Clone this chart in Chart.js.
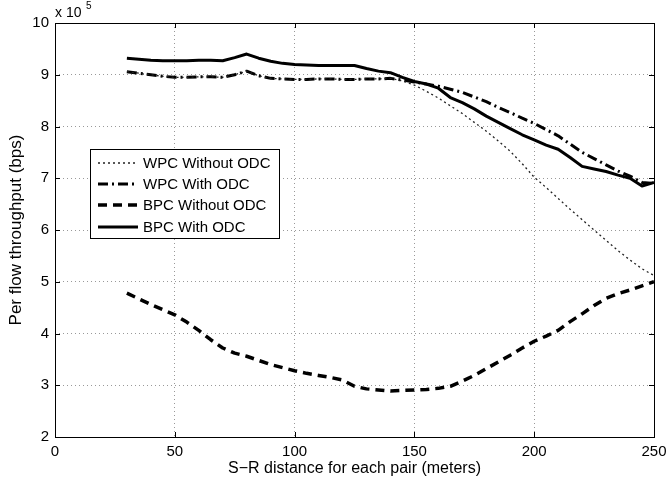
<!DOCTYPE html>
<html>
<head>
<meta charset="utf-8">
<script src="https://cdn.jsdelivr.net/npm/chart.js@4/dist/chart.umd.min.js"></script>
<style>
  body { margin: 0; background: #fff; }
  canvas { display: block; }
</style>
</head>
<body>
<canvas id="chart" width="667" height="480"></canvas>
<script>
// distance (m)
const distances = [30, 35, 40, 45, 50, 55, 60, 65, 70, 75, 80, 85, 90, 95, 100, 105, 110, 115, 120, 125,
    130, 135, 140, 145, 150, 155, 160, 165, 170, 175, 180, 185, 190, 195, 200, 205, 210, 215, 220, 225,
    230, 235, 240, 245, 250];

// throughput in units of 1e5 bps
const wpcWithoutOdc = [9.06, 9.03, 9.00, 8.97, 8.95, 8.95, 8.96, 8.96, 8.95, 9.00, 9.07, 8.98, 8.93, 8.92, 8.91,
    8.91, 8.92, 8.92, 8.91, 8.91, 8.92, 8.92, 8.93, 8.88, 8.80, 8.68, 8.55, 8.40, 8.25, 8.08,
    7.91, 7.72, 7.52, 7.28, 7.02, 6.82, 6.61, 6.40, 6.20, 6.00, 5.80, 5.60, 5.42, 5.25, 5.12];
const wpcWithOdc = [9.06, 9.03, 9.00, 8.97, 8.95, 8.95, 8.96, 8.96, 8.95, 9.00, 9.07, 8.98, 8.93, 8.92, 8.91,
    8.91, 8.92, 8.92, 8.91, 8.91, 8.92, 8.92, 8.93, 8.90, 8.86, 8.82, 8.78, 8.72, 8.66, 8.57,
    8.48, 8.37, 8.27, 8.16, 8.06, 7.94, 7.82, 7.66, 7.50, 7.38, 7.26, 7.14, 7.04, 6.92, 6.90];
const bpcWithoutOdc = [4.78, 4.67, 4.56, 4.46, 4.36, 4.22, 4.06, 3.88, 3.72, 3.62, 3.56, 3.48, 3.40, 3.34, 3.28,
    3.23, 3.19, 3.15, 3.10, 2.98, 2.93, 2.91, 2.89, 2.90, 2.91, 2.92, 2.94, 2.98, 3.08, 3.19,
    3.32, 3.45, 3.58, 3.72, 3.85, 3.95, 4.06, 4.23, 4.38, 4.54, 4.68, 4.77, 4.84, 4.92, 5.00];
const bpcWithOdc = [9.32, 9.30, 9.28, 9.27, 9.27, 9.27, 9.28, 9.28, 9.27, 9.33, 9.40, 9.32, 9.26, 9.22, 9.20,
    9.19, 9.18, 9.18, 9.18, 9.18, 9.12, 9.07, 9.04, 8.95, 8.87, 8.82, 8.74, 8.56, 8.46, 8.34,
    8.20, 8.08, 7.96, 7.84, 7.74, 7.64, 7.56, 7.40, 7.23, 7.18, 7.13, 7.06, 7.00, 6.85, 6.92];

const seriesNames = ['WPC Without ODC', 'WPC With ODC', 'BPC Without ODC', 'BPC With ODC'];
const xTicks = [0, 50, 100, 150, 200, 250];
const yTicks = [2, 3, 4, 5, 6, 7, 8, 9, 10];

const FONT = '"Liberation Sans", Arial, Helvetica, sans-serif';

const toPoints = ys => ys.map((y, i) => ({ x: distances[i], y }));

const styles = [
    { borderColor: '#222', borderWidth: 1.3, borderDash: [2, 3] },
    { borderColor: '#000', borderWidth: 3, borderDash: [10, 4, 2, 4] },
    { borderColor: '#000', borderWidth: 3.5, borderDash: [9, 6] },
    { borderColor: '#000', borderWidth: 3, borderDash: [] }
];

const datasets = [wpcWithoutOdc, wpcWithOdc, bpcWithoutOdc, bpcWithOdc].map((ys, i) => ({
    label: seriesNames[i],
    data: toPoints(ys),
    fill: false,
    tension: 0,
    pointRadius: 0,
    borderJoinStyle: 'round',
    ...styles[i]
}));

// box, inner ticks, exponent label and legend
const matlabFrame = {
    id: 'matlabFrame',
    afterDatasetsDraw(chart) {
        const { ctx, chartArea: a, scales } = chart;
        ctx.save();
        ctx.setLineDash([]);
        ctx.strokeStyle = '#000';
        ctx.lineWidth = 1;
        ctx.strokeRect(a.left + 0.5, a.top + 0.5, a.right - a.left, a.bottom - a.top);

        ctx.beginPath();
        xTicks.forEach(v => {
            const x = Math.round(scales.x.getPixelForValue(v)) + 0.5;
            ctx.moveTo(x, a.bottom); ctx.lineTo(x, a.bottom - 5);
            ctx.moveTo(x, a.top); ctx.lineTo(x, a.top + 5);
        });
        yTicks.forEach(v => {
            const y = Math.round(scales.y.getPixelForValue(v)) + 0.5;
            ctx.moveTo(a.left, y); ctx.lineTo(a.left + 5, y);
            ctx.moveTo(a.right, y); ctx.lineTo(a.right - 5, y);
        });
        ctx.stroke();

        ctx.fillStyle = '#000';
        ctx.textBaseline = 'alphabetic';
        ctx.textAlign = 'left';
        ctx.font = '14px ' + FONT;
        ctx.fillText('x 10', a.left, 17);
        ctx.font = '10px ' + FONT;
        ctx.fillText('5', a.left + 31, 9);

        // legend
        const lx = 90, ly = 149, lw = 189, lh = 89;
        ctx.fillStyle = '#fff';
        ctx.fillRect(lx, ly, lw, lh);
        ctx.strokeStyle = '#000';
        ctx.lineWidth = 1;
        ctx.strokeRect(lx + 0.5, ly + 0.5, lw, lh);
        const rows = [163, 184, 205, 227];
        chart.data.datasets.forEach((ds, i) => {
            ctx.save();
            ctx.strokeStyle = ds.borderColor;
            ctx.lineWidth = ds.borderWidth;
            ctx.setLineDash(ds.borderDash);
            ctx.beginPath();
            ctx.moveTo(98, rows[i]);
            ctx.lineTo(138, rows[i]);
            ctx.stroke();
            ctx.restore();
            ctx.fillStyle = '#000';
            ctx.font = '15px ' + FONT;
            ctx.textBaseline = 'middle';
            ctx.fillText(ds.label, 143, rows[i] + 1);
        });
        ctx.restore();
    }
};

new Chart(document.getElementById('chart'), {
    type: 'line',
    data: { datasets },
    options: {
        responsive: false,
        animation: false,
        layout: { padding: { top: 23, right: 13, left: 0, bottom: 0 } },
        plugins: { legend: { display: false }, tooltip: { enabled: false } },
        scales: {
            x: {
                type: 'linear',
                min: 0,
                max: 250,
                afterFit: s => { s.height = 43; s.paddingRight = 0; s.paddingLeft = 0; },
                afterBuildTicks: s => { s.ticks = xTicks.map(v => ({ value: v })); },
                grid: { color: '#999', lineWidth: 1, drawTicks: false },
                border: { display: false, dash: [1, 3] },
                ticks: { color: '#000', padding: 6, maxRotation: 0, font: { family: FONT, size: 15 } },
                title: {
                    display: true,
                    text: 'S\u2212R distance for each pair (meters)',
                    color: '#000',
                    padding: { top: 0, bottom: 2 },
                    font: { family: FONT, size: 16 }
                }
            },
            y: {
                min: 2,
                max: 10,
                afterFit: s => { s.width = 55; },
                afterBuildTicks: s => { s.ticks = yTicks.map(v => ({ value: v })); },
                grid: { color: '#999', lineWidth: 1, drawTicks: false },
                border: { display: false, dash: [1, 3] },
                ticks: { color: '#000', padding: 6, font: { family: FONT, size: 15 } },
                title: {
                    display: true,
                    text: 'Per flow throughput (bps)',
                    color: '#000',
                    padding: { top: 6, bottom: 0 },
                    font: { family: FONT, size: 17 }
                }
            }
        }
    },
    plugins: [matlabFrame]
});
</script>
</body>
</html>
